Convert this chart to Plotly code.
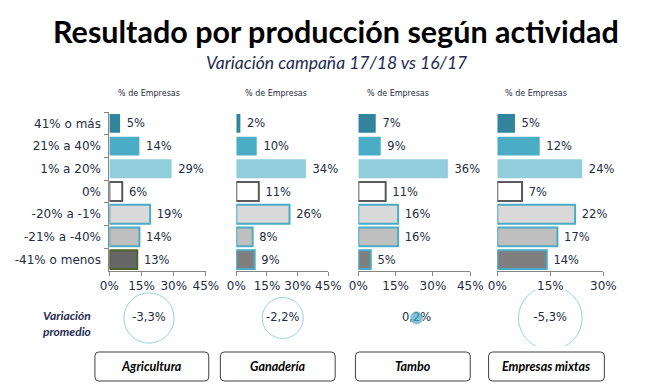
import plotly.graph_objects as go

W, H = 655, 386

categories = ["41% o más", "21% a 40%", "1% a 20%", "0%", "-20% a -1%", "-21% a -40%", "-41% o menos"]
activities = ["Agricultura", "Ganadería", "Tambo", "Empresas mixtas"]
agricultura = [5, 14, 29, 6, 19, 14, 13]
ganaderia = [2, 10, 34, 11, 26, 8, 9]
tambo = [7, 9, 36, 11, 16, 16, 5]
mixtas = [5, 12, 24, 7, 22, 17, 14]
variacion_promedio = [-3.3, -2.2, 0.2, -5.3]
ticks_45 = [0, 15, 30, 45]
ticks_30 = [0, 15, 30]

series = [agricultura, ganaderia, tambo, mixtas]

fill_colors = ["#31849B", "#4BACC6", "#92CDDC", "#FFFFFF", "#D9D9D9", "#BFBFBF", "#7F7F7F"]
line_colors = ["#31849B", "#4BACC6", "#92CDDC", "#595959", "#4BACC6", "#4BACC6", "#4BACC6"]
line_widths = [0, 0, 0, 2, 2, 2, 2]

TXT = "#262C40"
AXC = "#868686"
LABEL_FONT = "DejaVu Sans"


def px(x):
    return x / W


def py(y):
    return 1 - y / H


fig = go.Figure()

axis_names = ["x", "x2", "x3", "x4"]
for i, vals in enumerate(series):
    fc = list(fill_colors)
    lc = list(line_colors)
    if i == 0:
        fc[6] = "#666666"
        lc[6] = "#4F6228"
    fig.add_trace(go.Bar(
        x=vals, y=categories, orientation="h",
        xaxis=axis_names[i], yaxis="y",
        marker=dict(color=fc, line=dict(color=lc, width=line_widths)),
        width=0.83,
        text=["\u00a0" + f"{v}%" for v in vals],
        textposition="outside", constraintext="none", cliponaxis=False,
        textfont=dict(family=LABEL_FONT, size=11.5, color=TXT),
        showlegend=False, hoverinfo="skip",
    ))

# bubbles: text first, markers on top
bubble_text = [f"{v:.1f}".replace(".", ",") + "%" for v in variacion_promedio]
fig.add_trace(go.Scatter(
    x=activities, y=[0] * len(activities), xaxis="x5", yaxis="y5",
    mode="text", text=bubble_text, textposition="middle center",
    textfont=dict(family=LABEL_FONT, size=11.5, color=TXT),
    showlegend=False, hoverinfo="skip",
))
max_abs = max(abs(v) for v in variacion_promedio)
sizeref = max_abs / (45.0 ** 2)
fig.add_trace(go.Scatter(
    x=activities, y=[0] * len(activities), xaxis="x5", yaxis="y5",
    mode="markers",
    marker=dict(
        size=[abs(v) for v in variacion_promedio], sizemode="area", sizeref=sizeref,
        color=["rgba(255,255,255,0)" if v < 0 else "#4BACC6" for v in variacion_promedio],
        line=dict(color="#6DBFD4", width=1),
    ),
    showlegend=False, hoverinfo="skip",
))

common_x = dict(
    showline=True, linecolor=AXC, linewidth=1, ticks="outside", ticklen=4, tickcolor=AXC,
    showgrid=False, zeroline=False, anchor="y", tickmode="array",
    tickfont=dict(family=LABEL_FONT, size=12, color=TXT), fixedrange=True,
)
domains = [(103, 203), (234.5, 330), (361, 477), (505, 615)]
ranges = [[0, 45], [0, 45], [0, 45], [0, 30]]
tickv = [ticks_45, ticks_45, ticks_45, ticks_30]
layout_axes = {}
for i in range(4):
    key = "xaxis" if i == 0 else f"xaxis{i+1}"
    layout_axes[key] = dict(common_x, domain=[px(domains[i][0]), px(domains[i][1])],
                            range=ranges[i], tickvals=tickv[i],
                            ticktext=[f"{t}%" for t in tickv[i]])

layout_axes["yaxis"] = dict(
    domain=[py(271), py(112)], type="category", categoryorder="array",
    categoryarray=categories, autorange="reversed", anchor="x",
    showline=True, linecolor=AXC, ticks="outside", ticklen=4, tickcolor=AXC,
    tickson="boundaries", showgrid=False, zeroline=False, ticklabelstandoff=5,
    tickfont=dict(family=LABEL_FONT, size=12, color=TXT), fixedrange=True,
)
layout_axes["xaxis5"] = dict(domain=[px(74.7), px(629.3)], type="category",
                             categoryorder="array", categoryarray=activities,
                             range=[-0.5, 3.5], anchor="y5", visible=False)
layout_axes["yaxis5"] = dict(domain=[py(346), py(290)], range=[-1, 1], anchor="x5", visible=False)

annotations = [
    dict(text="<b>Resultado por producción según actividad</b>", x=px(337.5), y=py(31),
         xref="paper", yref="paper", showarrow=False, xanchor="center", yanchor="middle",
         font=dict(family="Lato", size=30.5, color="#000000")),
    dict(text="<i>Variación campaña 17/18 vs 16/17</i>", x=px(338), y=py(62),
         xref="paper", yref="paper", showarrow=False, xanchor="center", yanchor="middle",
         font=dict(family="Lato", size=17.5, color="#1F2A50")),
    dict(text="<b><i>Variación<br>promedio</i></b>", x=px(59), y=py(323),
         xref="paper", yref="paper", showarrow=False, xanchor="center", yanchor="middle",
         font=dict(family="Lato", size=12, color="#1F2A50")),
]
for cx in [144, 276, 402, 545]:
    annotations.append(dict(text="% de Empresas", x=px(cx), y=py(94), xref="paper", yref="paper",
                            showarrow=False, xanchor="center", yanchor="middle",
                            font=dict(family=LABEL_FONT, size=8, color=TXT)))

boxes = [(88, 206), (218, 337), (358, 477), (496, 616)]
shapes = []
for (x0, x1), name in zip(boxes, activities):
    y0, y1, r = 352, 381, 4
    pts = (f"M {px(x0 + r)},{py(y0)} L {px(x1 - r)},{py(y0)} "
           f"Q {px(x1)},{py(y0)} {px(x1)},{py(y0 + r)} L {px(x1)},{py(y1 - r)} "
           f"Q {px(x1)},{py(y1)} {px(x1 - r)},{py(y1)} L {px(x0 + r)},{py(y1)} "
           f"Q {px(x0)},{py(y1)} {px(x0)},{py(y1 - r)} L {px(x0)},{py(y0 + r)} "
           f"Q {px(x0)},{py(y0)} {px(x0 + r)},{py(y0)} Z")
    shapes.append(dict(type="path", path=pts, xref="paper", yref="paper",
                       line=dict(color="#404040", width=1), fillcolor="#FFFFFF"))
    annotations.append(dict(text=f"<b><i>{name}</i></b>", x=px((x0 + x1) / 2), y=py((y0 + y1) / 2),
                            xref="paper", yref="paper", showarrow=False,
                            xanchor="center", yanchor="middle",
                            font=dict(family="Lato", size=12.5, color="#000000")))

fig.update_layout(
    width=W, height=H, autosize=False,
    margin=dict(l=0, r=0, t=0, b=0),
    paper_bgcolor="#FFFFFF", plot_bgcolor="rgba(0,0,0,0)",
    bargap=0.17, annotations=annotations, shapes=shapes,
    **layout_axes,
)

fig.write_html("out.html", config={"displayModeBar": False},
               post_script="document.body.style.margin='0';document.body.style.overflow='hidden';")
